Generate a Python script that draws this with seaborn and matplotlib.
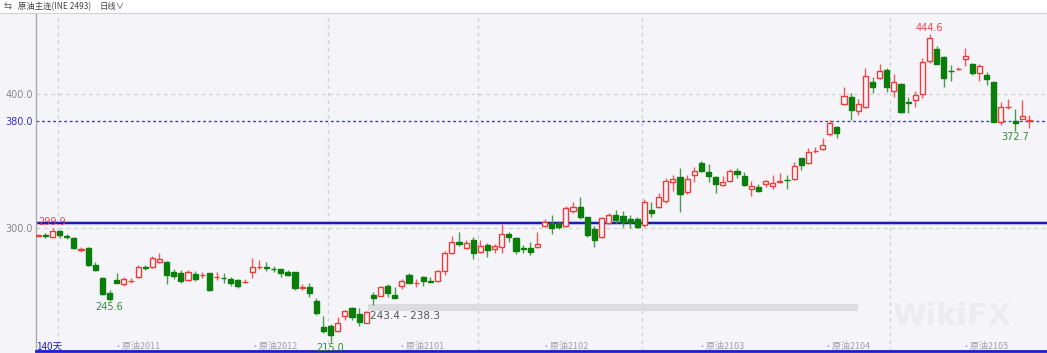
import numpy as np
import pandas as pd
import matplotlib
matplotlib.use("Agg")
import matplotlib.pyplot as plt
import seaborn as sns

# ---------------- data ----------------
opens = [294.3, 294.4, 293.0, 297.8, 293.7, 292.8, 283.9, 285.3, 272.4, 262.9,
         251.2, 261.4, 258.2, 260.2, 263.7, 270.6, 270.6, 274.4, 274.9, 267.4,
         266.2, 261.2, 265.4, 264.7, 266.2, 263.5, 263.0, 261.9, 261.2, 259.7,
         267.4, 270.7, 270.6, 269.6, 269.1, 267.4, 266.9, 255.5, 255.7, 245.5,
         226.4, 227.1, 223.4, 234.6, 240.0, 235.5, 229.3, 250.0, 249.5, 256.7,
         250.2, 257.0, 264.9, 259.0, 263.7, 260.3, 260.4, 268.1, 281.6, 289.8,
         284.8, 291.0, 282.3, 287.3, 284.6, 286.1, 295.5, 292.3, 284.8, 284.8,
         285.6, 301.5, 304.0, 304.0, 301.5, 312.9, 315.9, 307.9, 299.0, 293.5,
         303.9, 309.7, 308.9, 306.7, 306.7, 302.2, 313.4, 315.9, 320.4, 334.1,
         337.8, 326.6, 339.5, 348.3, 342.0, 337.8, 332.1, 335.1, 342.5, 339.0,
         329.1, 330.3, 332.6, 331.6, 334.4, 336.0, 336.5, 352.0, 348.7, 357.2,
         358.9, 369.9, 375.6, 392.3, 397.5, 387.3, 390.5, 409.2, 412.2, 417.9,
         402.2, 407.5, 393.7, 395.5, 400.0, 424.9, 433.3, 427.4, 417.4, 418.4,
         425.9, 422.4, 415.4, 414.2, 408.7, 378.8, 390.3, 379.8, 381.3, 379.9]
highs = [295.2, 296.0, 299.9, 298.5, 295.3, 293.5, 286.1, 286.0, 275.0, 263.2,
         253.7, 266.2, 263.7, 262.4, 272.4, 272.4, 279.1, 281.1, 275.5, 269.4,
         268.6, 268.6, 267.9, 267.4, 266.7, 266.9, 266.2, 263.7, 261.9, 261.7,
         277.4, 276.1, 274.4, 271.6, 269.6, 268.6, 267.4, 257.9, 258.7, 247.5,
         234.3, 228.0, 233.3, 238.8, 241.3, 240.0, 238.3, 252.5, 256.7, 258.2,
         255.7, 261.7, 266.7, 261.7, 264.2, 263.7, 268.4, 283.1, 294.0, 296.8,
         291.0, 293.0, 291.0, 288.6, 287.8, 302.7, 297.3, 293.5, 287.3, 289.8,
         296.8, 306.5, 309.7, 305.4, 316.4, 319.6, 322.9, 308.5, 301.5, 308.2,
         310.9, 313.4, 312.9, 309.7, 308.4, 321.6, 319.6, 326.4, 337.0, 339.5,
         345.0, 339.5, 345.8, 350.0, 347.5, 338.5, 338.8, 343.8, 344.5, 342.0,
         335.0, 332.6, 335.8, 339.3, 340.8, 339.5, 349.5, 352.5, 359.9, 360.7,
         367.4, 380.6, 376.0, 405.4, 400.5, 396.0, 419.1, 412.9, 422.4, 419.0,
         414.7, 408.0, 398.0, 402.5, 426.6, 444.6, 435.8, 428.0, 421.6, 420.4,
         434.1, 423.4, 422.4, 416.7, 409.0, 394.2, 396.0, 388.5, 395.5, 384.3]
lows = [293.9, 292.3, 292.5, 292.3, 291.5, 284.0, 282.1, 271.9, 268.0, 250.0,
        245.6, 258.8, 256.7, 258.7, 263.0, 268.6, 270.0, 273.6, 258.2, 261.9,
        259.2, 260.7, 260.7, 262.4, 253.0, 261.2, 259.2, 256.7, 255.0, 258.7,
        262.4, 269.1, 268.1, 267.4, 263.2, 264.0, 254.0, 253.7, 248.7, 235.1,
        222.0, 215.0, 222.5, 231.3, 231.3, 226.8, 228.8, 242.5, 248.9, 248.2,
        247.5, 254.2, 258.7, 255.7, 256.7, 259.4, 259.9, 264.9, 280.6, 286.6,
        284.0, 276.6, 281.6, 278.6, 281.6, 281.6, 289.8, 280.6, 281.1, 279.8,
        285.0, 300.5, 295.5, 299.0, 300.5, 311.4, 306.9, 293.5, 286.1, 292.5,
        303.0, 303.4, 300.5, 299.7, 300.2, 301.0, 307.9, 315.0, 319.0, 327.8,
        311.7, 325.0, 334.6, 342.0, 334.6, 326.3, 331.5, 334.0, 337.0, 331.5,
        324.1, 327.0, 330.3, 328.8, 333.3, 328.8, 336.0, 343.3, 348.0, 355.7,
        358.0, 369.0, 366.9, 392.0, 380.6, 384.3, 389.5, 400.5, 411.5, 401.7,
        398.0, 386.0, 386.0, 390.0, 396.8, 423.0, 422.0, 405.5, 410.0, 417.9,
        420.9, 414.2, 409.9, 406.7, 379.0, 376.8, 388.5, 372.7, 381.0, 374.3]
closes = [294.6, 294.1, 298.0, 294.8, 293.4, 285.3, 284.2, 272.4, 268.4, 250.5,
          247.2, 259.2, 261.7, 260.5, 270.6, 270.3, 277.4, 276.6, 264.7, 264.4,
          260.7, 267.1, 262.2, 265.0, 253.7, 263.8, 262.7, 259.2, 256.7, 260.0,
          271.1, 271.0, 270.3, 269.3, 266.2, 264.9, 254.9, 255.8, 251.2, 236.8,
          223.4, 220.1, 228.8, 238.0, 233.8, 230.1, 237.0, 247.7, 255.7, 251.7,
          248.0, 260.4, 259.2, 259.3, 260.7, 260.0, 267.9, 281.6, 289.8, 288.1,
          288.6, 281.6, 286.6, 283.6, 286.3, 295.5, 293.5, 283.1, 284.5, 282.3,
          288.1, 304.7, 300.2, 301.0, 314.7, 315.4, 307.9, 294.8, 291.0, 307.2,
          309.7, 305.9, 304.7, 304.7, 300.9, 319.6, 310.9, 323.4, 335.3, 336.3,
          325.4, 336.6, 342.5, 342.8, 338.8, 332.8, 334.1, 342.5, 340.0, 332.1,
          331.6, 327.8, 335.0, 333.6, 334.7, 335.7, 346.5, 347.0, 356.9, 357.5,
          361.7, 378.1, 370.6, 398.7, 388.0, 392.3, 413.4, 405.5, 417.4, 405.5,
          409.2, 386.8, 393.4, 399.2, 424.1, 441.5, 422.4, 411.7, 417.0, 418.7,
          428.3, 415.9, 420.9, 411.2, 379.3, 390.0, 390.6, 378.1, 383.3, 380.2]

ytick_values = [400.0, 380.0, 300.0]
ytick_labels = ["400.0", "380.0", "300.0"]
contract_labels = ["·原油2011", "·原油2012", "·原油2101", "·原油2102",
                   "·原油2103", "·原油2104", "·原油2105"]
contract_pos = [10.5, 29.7, 50.4, 70.6, 92.4, 110.1, 129.5]
month_lines = [2.7, 40.6, 61.6, 84.6, 119.4]
ref_line = 380.0
drawn_line = 303.5
band_low, band_high = 238.3, 243.4
band_start, band_end = 46.2, 115.0
marks = [(2, "high", "299.9"), (10, "low", "245.6"), (41, "low", "215.0"),
         (125, "high", "444.6"), (137, "low", "372.7")]

df = pd.DataFrame({"i": np.arange(len(opens)), "open": opens, "high": highs,
                   "low": lows, "close": closes})
df["up"] = df["close"] >= df["open"]

# ---------------- style ----------------
BG = "#f4f4f9"
RED = "#ee3b3b"
GREEN = "#0a7d0a"
sns.set_theme(style="white")
plt.rcParams["font.family"] = ["Noto Sans CJK SC", "DejaVu Sans"]
plt.rcParams["axes.unicode_minus"] = False

fig = plt.figure(figsize=(10.47, 3.53), dpi=100, facecolor=BG)
W, H = 1047, 353
ax = fig.add_axes([36 / W, (H - 350.5) / H, 1 - 36 / W, (350.5 - 13) / H])
ax.set_facecolor(BG)

# grid
for v in [400.0, 300.0]:
    ax.axhline(v, color="#cfcfd4", lw=0.9, ls=(0, (3, 3)), zorder=0)
for m in month_lines:
    ax.axvline(m, color="#cfcfd4", lw=0.9, ls=(0, (3, 3)), zorder=0)

# band
ax.fill_between([band_start, band_end], band_low, band_high, color="#dcdce0",
                lw=0, zorder=1)
ax.text(band_start + 0.3, (band_low + band_high) / 2 - 6.3, "243.4 - 238.3",
        fontsize=7.5, color="#555555", va="center", ha="left",
        family="DejaVu Sans", zorder=5)

# lines
ax.axhline(ref_line, color="#3b3bd0", lw=1.0, ls=(0, (2, 2)), zorder=2)
ax.axhline(drawn_line, color="#b8b8f0", lw=3.0, zorder=2)
ax.axhline(drawn_line, color="#0c0ca8", lw=1.3, zorder=2)

# candles
colors = np.where(df["up"], RED, GREEN)
wick_colors = np.where(df["up"], "#f05a5a", "#4c9a4c")
ax.vlines(df["i"], df["low"], df["high"], colors=wick_colors, lw=1.0, zorder=3)
bottoms = np.minimum(df["open"], df["close"])
heights = np.maximum(np.abs(df["close"] - df["open"]), 0.25)
faces = np.where(df["up"], BG, GREEN)
ax.bar(df["i"], heights, bottom=bottoms, width=0.72, color=faces,
       edgecolor=colors, linewidth=1.0, zorder=4)

# high/low marks
for idx, kind, txt in marks:
    if kind == "high":
        ax.annotate(txt, (idx, highs[idx]), xytext=(0, 1), textcoords="offset pixels",
                    ha="center", va="bottom", fontsize=7, color="#e84848",
                    family="DejaVu Sans", zorder=6)
    else:
        ax.annotate(txt, (idx, lows[idx]), xytext=(0, -1), textcoords="offset pixels",
                    ha="center", va="top", fontsize=7, color="#2f8f2f",
                    family="DejaVu Sans", zorder=6)

ax.set_xlim(-0.32, 141.47)
ax.set_ylim(208.6, 460.4)
ax.set_yticks(ytick_values)
ax.set_yticklabels(ytick_labels, fontsize=7, family="DejaVu Sans")
for lab, v in zip(ax.get_yticklabels(), ytick_values):
    lab.set_color("#3333bb" if v == ref_line else "#888888")
ax.tick_params(axis="y", length=0, pad=2)
ax.set_xticks([])
ax.set_xlabel("")
ax.set_ylabel("")
sns.despine(ax=ax, top=True, right=True)
ax.spines["left"].set_color("#a8a8b0")
ax.spines["left"].set_linewidth(1.0)
ax.spines["bottom"].set_color("#1c1cc8")
ax.spines["bottom"].set_linewidth(2.0)
ax.grid(False)

# contract labels along bottom
for p, t in zip(contract_pos, contract_labels):
    ax.text(p, 0.013, t, transform=ax.get_xaxis_transform(), fontsize=6.5,
            color="#a0a0a8", ha="left", va="center", zorder=6)
ax.text(0.0, 0.013, "140天", transform=ax.transAxes, fontsize=7, color="#2020c0",
        ha="left", va="center", zorder=6)

# watermark
ax.text(0.965, 0.1, "WikiFX", transform=ax.transAxes, fontsize=22, color="#ebebf0",
        ha="right", va="center", family="DejaVu Sans", fontweight="bold", zorder=0.5)

# title bar
fig.patches.append(plt.Rectangle((0, 1 - 13 / H), 1, 13 / H, transform=fig.transFigure,
                                 facecolor="white", edgecolor="none", zorder=-1))
fig.add_artist(plt.Line2D([0, 1], [1 - 13 / H, 1 - 13 / H], transform=fig.transFigure,
                          color="#d0d0d6", lw=0.8))
fig.text(4 / W, 1 - 6.5 / H, "⇆", fontsize=7, color="#666666", va="center", ha="left",
         family="DejaVu Sans")
fig.text(18 / W, 1 - 6.5 / H, "原油主连(INE 2493)", fontsize=6.0, color="#444444",
         va="center", ha="left")
fig.text(100 / W, 1 - 6.5 / H, "日线∨", fontsize=6.0, color="#444444", va="center",
         ha="left")

fig.savefig("out.png", dpi=100, facecolor=BG)
